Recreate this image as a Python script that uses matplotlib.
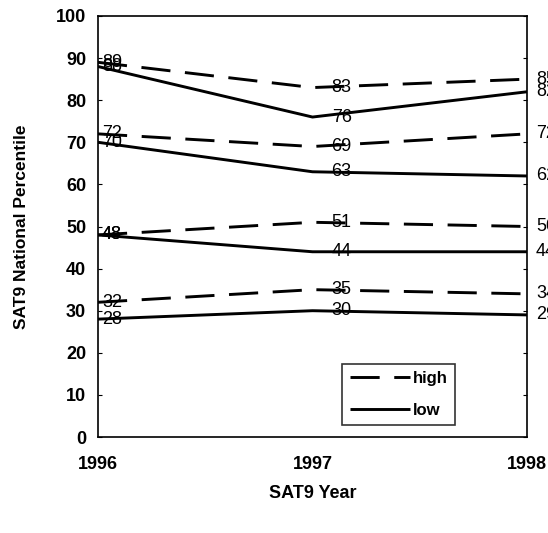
import matplotlib
matplotlib.use("Agg")
import matplotlib.pyplot as plt

plt.rcParams['font.family'] = ['Liberation Sans', 'DejaVu Sans']

years = [1996, 1997, 1998]
year_labels = ['1996', '1997', '1998']
yticks = [0, 10, 20, 30, 40, 50, 60, 70, 80, 90, 100]

# dashed series ("high") and solid series ("low"), four groups each
high_series = [
    [89, 83, 85],
    [72, 69, 72],
    [48, 51, 50],
    [32, 35, 34],
]
low_series = [
    [88, 76, 82],
    [70, 63, 62],
    [48, 44, 44],
    [28, 30, 29],
]

fig = plt.figure(figsize=(5.48, 5.33), dpi=100)
ax = fig.add_axes([98 / 548, 1 - 437 / 533, 429 / 548, 421 / 533])

# label offsets in points for each year column
label_dx = [10, 21, 6.5]


def draw_group(values, style, label=None):
    ax.plot(years, values, color='black', lw=2.1, linestyle=style,
            label=label, solid_capstyle='butt', dash_capstyle='butt')
    for i, (x, v) in enumerate(zip(years, values)):
        ha = 'left' if i == 2 else 'center'
        ax.annotate(str(v), (x, v), xytext=(label_dx[i], 0),
                    textcoords='offset points', ha=ha, va='center',
                    fontsize=13, annotation_clip=False)


for k, vals in enumerate(high_series):
    draw_group(vals, (0, (10, 5)), 'high' if k == 0 else None)
for k, vals in enumerate(low_series):
    draw_group(vals, '-', 'low' if k == 0 else None)

ax.set_xlim(1996, 1998)
ax.set_ylim(0, 100)
ax.set_xticks(years)
ax.set_xticklabels(year_labels)
ax.set_yticks(yticks)

for lab in ax.get_xticklabels() + ax.get_yticklabels():
    lab.set_fontweight('bold')
    lab.set_fontsize(13)

ax.tick_params(axis='x', length=0, pad=14)
ax.tick_params(axis='y', length=3, direction='in', right=True, pad=8.5)

for sp in ax.spines.values():
    sp.set_linewidth(1.2)

ax.set_xlabel('SAT9 Year', fontsize=13, fontweight='bold')
ax.set_ylabel('SAT9 National Percentile', fontsize=12.5, fontweight='bold')
ax.xaxis.set_label_coords(0.5, -0.115)
ax.yaxis.set_label_coords(-0.16, 0.5)

leg = ax.legend(loc='lower right', bbox_to_anchor=(0.833, 0.028),
                handlelength=3.6, fontsize=12, frameon=True,
                fancybox=False, borderpad=0.45, labelspacing=1.0,
                handletextpad=0.2, borderaxespad=0)
leg.get_frame().set_edgecolor('black')
leg.get_frame().set_linewidth(1.2)
for t in leg.get_texts():
    t.set_fontweight('bold')

fig.savefig('out.png', dpi=100)
